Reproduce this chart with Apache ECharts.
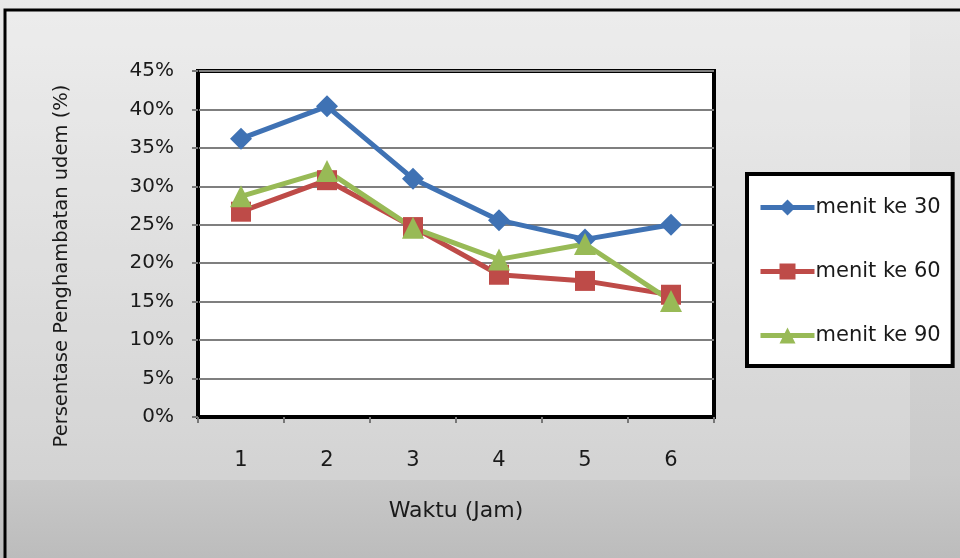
<!DOCTYPE html>
<html>
<head>
<meta charset="utf-8">
<script src="https://cdn.jsdelivr.net/npm/echarts@6/dist/echarts.min.js"></script>
<style>
  html, body { margin: 0; padding: 0; background: #d0d0d0; }
  #chart { width: 960px; height: 558px; }
</style>
</head>
<body>
<div id="chart"></div>
<script>
// Hours after treatment
const categories = ['1', '2', '3', '4', '5', '6'];
// Edema inhibition (%) measured at minute 30, 60 and 90
const menit30 = [36.2, 40.4, 31.0, 25.6, 23.1, 25.0];
const menit60 = [26.7, 30.8, 24.7, 18.5, 17.7, 15.9];
const menit90 = [28.7, 32.0, 24.6, 20.5, 22.5, 15.1];
const seriesNames = ['menit ke 30', 'menit ke 60', 'menit ke 90'];

const FONT = '"DejaVu Sans", "Liberation Sans", sans-serif';
const TEXT = '#1a1a1a';

const chart = echarts.init(document.getElementById('chart'), null, { renderer: 'canvas' });

function lineSeries(name, data, color, symbol, size) {
  return {
    name: name,
    type: 'line',
    data: data,
    symbol: symbol,
    symbolSize: size,
    lineStyle: { color: color, width: 5 },
    itemStyle: { color: color },
    emphasis: { disabled: true },
    z: 3
  };
}

chart.setOption({
  animation: false,
  backgroundColor: {
    type: 'linear', x: 0, y: 0, x2: 0, y2: 1,
    colorStops: [
      { offset: 0, color: '#e9e9e9' },
      { offset: 0.85, color: '#c9c9c9' },
      { offset: 1, color: '#bcbcbc' }
    ]
  },
  graphic: [
    {
      type: 'rect',
      z: -10,
      shape: { x: 5, y: 10, width: 905, height: 470 },
      style: { fill: 'rgba(255,255,255,0.2)' },
      silent: true
    },
    {
      type: 'rect',
      shape: { x: 5, y: 10, width: 1000, height: 600 },
      style: { fill: 'none', stroke: '#000', lineWidth: 3 },
      silent: true
    }
  ],
  grid: {
    left: 198, right: 246, top: 71, bottom: 141,
    show: true,
    backgroundColor: '#ffffff',
    borderColor: '#000',
    borderWidth: 4
  },
  xAxis: {
    type: 'category',
    data: categories,
    boundaryGap: true,
    name: 'Waktu (Jam)',
    nameLocation: 'middle',
    nameGap: 83,
    nameTextStyle: { fontFamily: FONT, fontSize: 22, color: TEXT },
    axisLine: { show: true, lineStyle: { color: '#000', width: 2 } },
    axisTick: { show: true, length: 6, lineStyle: { color: '#777', width: 2 } },
    axisLabel: { fontFamily: FONT, fontSize: 21, color: TEXT, margin: 33 }
  },
  yAxis: {
    type: 'value',
    min: 0, max: 45, interval: 5,
    name: 'Persentase Penghambatan udem (%)',
    nameLocation: 'middle',
    nameGap: 126,
    nameTextStyle: { fontFamily: FONT, fontSize: 19.5, color: TEXT, padding: [0, 44, 0, 0] },
    axisLine: { show: true, lineStyle: { color: '#000', width: 2 } },
    axisTick: { show: true, length: 6, lineStyle: { color: '#777', width: 2 } },
    axisLabel: { fontFamily: FONT, fontSize: 20, color: TEXT, margin: 24, formatter: '{value}%' },
    splitLine: { show: true, lineStyle: { color: '#7f7f7f', width: 2 } }
  },
  legend: {
    data: seriesNames,
    orient: 'vertical',
    left: 747, top: 174,
    padding: [23, 12, 20, 11],
    backgroundColor: '#ffffff',
    borderColor: '#000',
    borderWidth: 4,
    itemWidth: 54,
    itemHeight: 20,
    itemGap: 43,
    lineStyle: { width: 5 },
    textStyle: { fontFamily: FONT, fontSize: 21, color: TEXT, padding: [0, 0, 0, -4] }
  },
  series: [
    lineSeries(seriesNames[0], menit30, '#3f72b4', 'diamond', 22),
    lineSeries(seriesNames[1], menit60, '#be4b48', 'rect', 20),
    lineSeries(seriesNames[2], menit90, '#98ba56', 'triangle', 22)
  ]
});
</script>
</body>
</html>
